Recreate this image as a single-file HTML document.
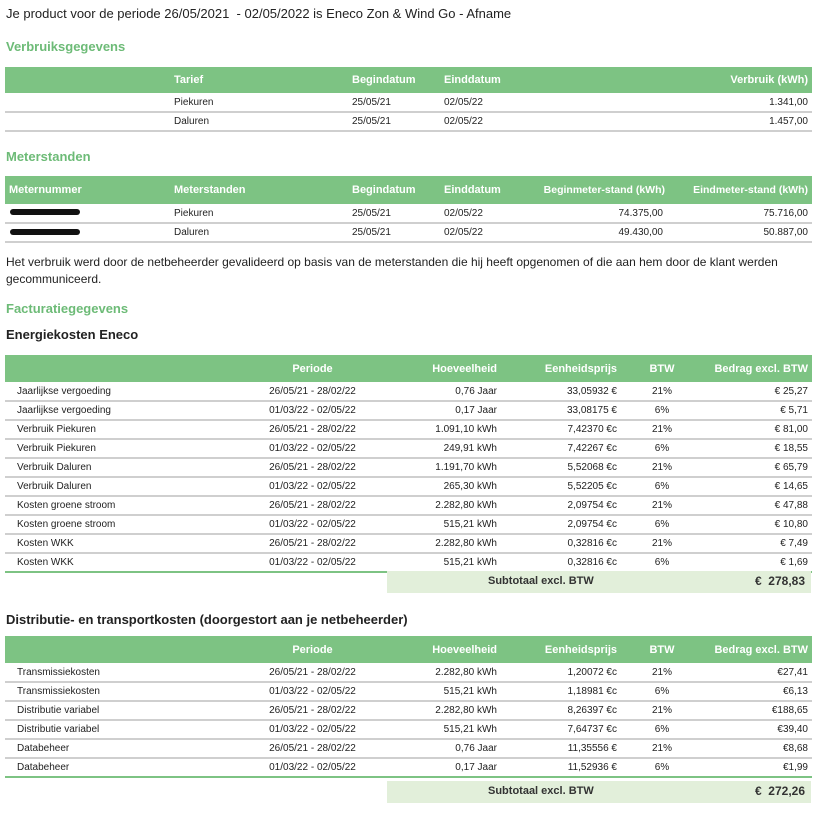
<!DOCTYPE html>
<html><head><meta charset="utf-8"><style>
body{margin:0;width:829px;height:826px;background:#fff;font-family:"Liberation Sans",sans-serif;color:#222;position:relative;overflow:hidden}
.a{position:absolute;white-space:nowrap}
.g{color:#6dbb77;font-weight:bold;font-size:13px}
table{position:absolute;left:5px;width:807px;border-collapse:collapse;table-layout:fixed;font-size:10px}
th{background:#7dc383;color:#fff;font-weight:bold;font-size:11px;text-align:left;padding:0 4px;white-space:nowrap;overflow:visible}
td{border-bottom:2px solid #cfcfcf;padding:0 4px;white-space:nowrap}
.r{text-align:right}.c{text-align:center}
.sub{position:absolute;left:387px;width:424px;background:#e2efda;font-size:11px;font-weight:bold;color:#333}
.blob{position:absolute;left:10px;width:70px;height:6px;background:#111;border-radius:3px}
</style></head><body>
<div class="a" style="left:6px;top:6px;font-size:13px">Je product voor de periode 26/05/2021&nbsp; - 02/05/2022 is Eneco Zon &amp; Wind Go - Afname</div>
<div class="a g" style="left:6px;top:39px">Verbruiksgegevens</div>
<table style="top:67px">
<colgroup><col style="width:165px"><col style="width:178px"><col style="width:92px"><col style="width:100px"><col></colgroup>
<tr style="height:26px"><th></th><th>Tarief</th><th>Begindatum</th><th>Einddatum</th><th class="r">Verbruik (kWh)</th></tr>
<tr style="height:19px"><td></td><td>Piekuren</td><td>25/05/21</td><td>02/05/22</td><td class="r">1.341,00</td></tr>
<tr style="height:19px"><td></td><td>Daluren</td><td>25/05/21</td><td>02/05/22</td><td class="r">1.457,00</td></tr>
</table>
<div class="a g" style="left:6px;top:149px">Meterstanden</div>
<table style="top:176px">
<colgroup><col style="width:165px"><col style="width:178px"><col style="width:92px"><col style="width:100px"><col style="width:127px"><col></colgroup>
<tr style="height:28px"><th>Meternummer</th><th>Meterstanden</th><th>Begindatum</th><th>Einddatum</th><th class="r" style="font-size:10.5px;padding:0 2px 0 0;direction:rtl"><span style="direction:ltr;unicode-bidi:embed">Beginmeter-stand (kWh)</span></th><th class="r" style="font-size:10.5px">Eindmeter-stand (kWh)</th></tr>
<tr style="height:19px"><td></td><td>Piekuren</td><td>25/05/21</td><td>02/05/22</td><td class="r">74.375,00</td><td class="r">75.716,00</td></tr>
<tr style="height:19px"><td></td><td>Daluren</td><td>25/05/21</td><td>02/05/22</td><td class="r">49.430,00</td><td class="r">50.887,00</td></tr>
</table>
<div class="blob" style="top:209px"></div><div class="blob" style="top:229px"></div>
<div class="a" style="left:6px;top:254px;font-size:12px;line-height:17px">Het verbruik werd door de netbeheerder gevalideerd op basis van de meterstanden die hij heeft opgenomen of die aan hem door de klant werden<br>gecommuniceerd.</div>
<div class="a g" style="left:6px;top:301px">Facturatiegegevens</div>
<div class="a" style="left:6px;top:327px;font-size:13px;font-weight:bold">Energiekosten Eneco</div>
<table style="top:355px;border-bottom:2px solid #7dc383">
<colgroup><col style="width:215px"><col style="width:185px"><col style="width:96px"><col style="width:120px"><col style="width:82px"><col></colgroup>
<tr style="height:27px"><th></th><th class="c">Periode</th><th class="r">Hoeveelheid</th><th class="r">Eenheidsprijs</th><th class="c">BTW</th><th class="r">Bedrag excl. BTW</th></tr>
<tr style="height:19px"><td style="padding-left:12px">Jaarlijkse vergoeding</td><td class="c">26/05/21 - 28/02/22</td><td class="r">0,76 Jaar</td><td class="r">33,05932 €</td><td class="c">21%</td><td class="r">€ 25,27</td></tr>
<tr style="height:19px"><td style="padding-left:12px">Jaarlijkse vergoeding</td><td class="c">01/03/22 - 02/05/22</td><td class="r">0,17 Jaar</td><td class="r">33,08175 €</td><td class="c">6%</td><td class="r">€ 5,71</td></tr>
<tr style="height:19px"><td style="padding-left:12px">Verbruik Piekuren</td><td class="c">26/05/21 - 28/02/22</td><td class="r">1.091,10 kWh</td><td class="r">7,42370 €c</td><td class="c">21%</td><td class="r">€ 81,00</td></tr>
<tr style="height:19px"><td style="padding-left:12px">Verbruik Piekuren</td><td class="c">01/03/22 - 02/05/22</td><td class="r">249,91 kWh</td><td class="r">7,42267 €c</td><td class="c">6%</td><td class="r">€ 18,55</td></tr>
<tr style="height:19px"><td style="padding-left:12px">Verbruik Daluren</td><td class="c">26/05/21 - 28/02/22</td><td class="r">1.191,70 kWh</td><td class="r">5,52068 €c</td><td class="c">21%</td><td class="r">€ 65,79</td></tr>
<tr style="height:19px"><td style="padding-left:12px">Verbruik Daluren</td><td class="c">01/03/22 - 02/05/22</td><td class="r">265,30 kWh</td><td class="r">5,52205 €c</td><td class="c">6%</td><td class="r">€ 14,65</td></tr>
<tr style="height:19px"><td style="padding-left:12px">Kosten groene stroom</td><td class="c">26/05/21 - 28/02/22</td><td class="r">2.282,80 kWh</td><td class="r">2,09754 €c</td><td class="c">21%</td><td class="r">€ 47,88</td></tr>
<tr style="height:19px"><td style="padding-left:12px">Kosten groene stroom</td><td class="c">01/03/22 - 02/05/22</td><td class="r">515,21 kWh</td><td class="r">2,09754 €c</td><td class="c">6%</td><td class="r">€ 10,80</td></tr>
<tr style="height:19px"><td style="padding-left:12px">Kosten WKK</td><td class="c">26/05/21 - 28/02/22</td><td class="r">2.282,80 kWh</td><td class="r">0,32816 €c</td><td class="c">21%</td><td class="r">€ 7,49</td></tr>
<tr style="height:19px"><td style="padding-left:12px;border:0">Kosten WKK</td><td class="c" style="border:0">01/03/22 - 02/05/22</td><td class="r" style="border:0">515,21 kWh</td><td class="r" style="border:0">0,32816 €c</td><td class="c" style="border:0">6%</td><td class="r" style="border:0">€ 1,69</td></tr>
</table>
<div class="sub" style="top:571px;height:22px"><span class="a" style="left:101px;top:4px">Subtotaal excl. BTW</span><span class="a" style="right:6px;top:3px;font-size:12px">€&nbsp; 278,83</span></div>
<div class="a" style="left:6px;top:612px;font-size:13px;font-weight:bold">Distributie- en transportkosten (doorgestort aan je netbeheerder)</div>
<table style="top:636px;border-bottom:2px solid #7dc383">
<colgroup><col style="width:215px"><col style="width:185px"><col style="width:96px"><col style="width:120px"><col style="width:82px"><col></colgroup>
<tr style="height:27px"><th></th><th class="c">Periode</th><th class="r">Hoeveelheid</th><th class="r">Eenheidsprijs</th><th class="c">BTW</th><th class="r">Bedrag excl. BTW</th></tr>
<tr style="height:19px"><td style="padding-left:12px">Transmissiekosten</td><td class="c">26/05/21 - 28/02/22</td><td class="r">2.282,80 kWh</td><td class="r">1,20072 €c</td><td class="c">21%</td><td class="r">€27,41</td></tr>
<tr style="height:19px"><td style="padding-left:12px">Transmissiekosten</td><td class="c">01/03/22 - 02/05/22</td><td class="r">515,21 kWh</td><td class="r">1,18981 €c</td><td class="c">6%</td><td class="r">€6,13</td></tr>
<tr style="height:19px"><td style="padding-left:12px">Distributie variabel</td><td class="c">26/05/21 - 28/02/22</td><td class="r">2.282,80 kWh</td><td class="r">8,26397 €c</td><td class="c">21%</td><td class="r">€188,65</td></tr>
<tr style="height:19px"><td style="padding-left:12px">Distributie variabel</td><td class="c">01/03/22 - 02/05/22</td><td class="r">515,21 kWh</td><td class="r">7,64737 €c</td><td class="c">6%</td><td class="r">€39,40</td></tr>
<tr style="height:19px"><td style="padding-left:12px">Databeheer</td><td class="c">26/05/21 - 28/02/22</td><td class="r">0,76 Jaar</td><td class="r">11,35556 €</td><td class="c">21%</td><td class="r">€8,68</td></tr>
<tr style="height:19px"><td style="padding-left:12px;border:0">Databeheer</td><td class="c" style="border:0">01/03/22 - 02/05/22</td><td class="r" style="border:0">0,17 Jaar</td><td class="r" style="border:0">11,52936 €</td><td class="c" style="border:0">6%</td><td class="r" style="border:0">€1,99</td></tr>
</table>
<div class="sub" style="top:781px;height:22px"><span class="a" style="left:101px;top:4px">Subtotaal excl. BTW</span><span class="a" style="right:6px;top:3px;font-size:12px">€&nbsp; 272,26</span></div>
</body></html>
